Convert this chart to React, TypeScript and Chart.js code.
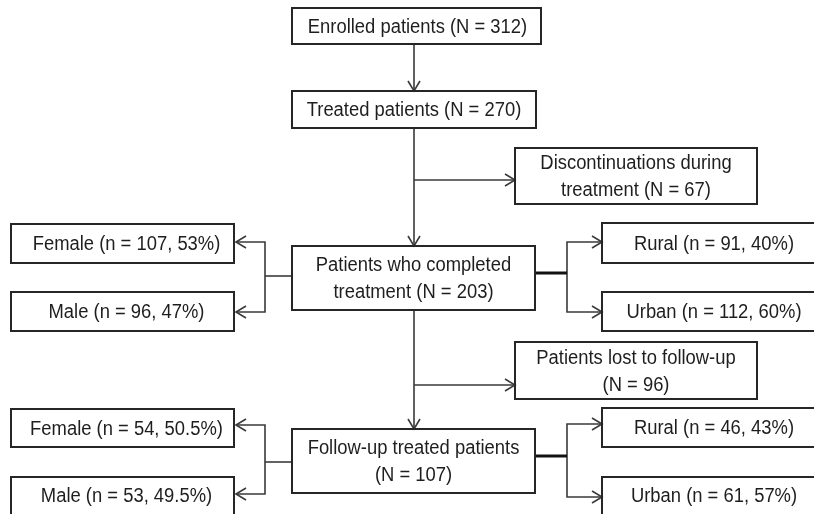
import React, { useEffect, useRef } from "react";
import { Chart, registerables } from "chart.js";

Chart.register(...registerables);

// ---- data ----
const stageNames = ["Enrolled patients", "Treated patients", "Patients who completed treatment", "Follow-up treated patients"];
const stageCounts = [312, 270, 203, 107];
const exclusionNames = ["Discontinuations during treatment", "Patients lost to follow-up"];
const exclusionCounts = [67, 96];
const sexCategories = ["Female", "Male"];
const sexCompletedCounts = [107, 96];
const sexCompletedPct = ["53%", "47%"];
const sexFollowUpCounts = [54, 53];
const sexFollowUpPct = ["50.5%", "49.5%"];
const areaCategories = ["Rural", "Urban"];
const areaCompletedCounts = [91, 112];
const areaCompletedPct = ["40%", "60%"];
const areaFollowUpCounts = [46, 61];
const areaFollowUpPct = ["43%", "57%"];

// ---- layout (flowchart geometry in chart units) ----
type Box = { lines: string[]; l: number; t: number; r: number; b: number; dx: number };
type Conn = { pts: number[][]; arrow: boolean; thick?: boolean };

function buildBoxes(): Box[] {
  const boxes: Box[] = [];
  boxes.push({ lines: [`${stageNames[0]} (N = ${stageCounts[0]})`], l: 292, t: 8, r: 541, b: 44, dx: 1 });
  boxes.push({ lines: [`${stageNames[1]} (N = ${stageCounts[1]})`], l: 292, t: 91, r: 536, b: 128, dx: 0 });
  boxes.push({ lines: ["Discontinuations during", `treatment (N = ${exclusionCounts[0]})`], l: 515, t: 148, r: 757, b: 204, dx: 0 });
  boxes.push({ lines: ["Patients who completed", `treatment (N = ${stageCounts[2]})`], l: 292, t: 246, r: 535, b: 310, dx: 0 });
  boxes.push({ lines: [`${sexCategories[0]} (n = ${sexCompletedCounts[0]}, ${sexCompletedPct[0]})`], l: 11, t: 224, r: 234, b: 263, dx: 4 });
  boxes.push({ lines: [`${sexCategories[1]} (n = ${sexCompletedCounts[1]}, ${sexCompletedPct[1]})`], l: 11, t: 292, r: 234, b: 331, dx: 4 });
  boxes.push({ lines: [`${areaCategories[0]} (n = ${areaCompletedCounts[0]}, ${areaCompletedPct[0]})`], l: 602, t: 223, r: 826, b: 263, dx: 0 });
  boxes.push({ lines: [`${areaCategories[1]} (n = ${areaCompletedCounts[1]}, ${areaCompletedPct[1]})`], l: 602, t: 292, r: 826, b: 331, dx: 0 });
  boxes.push({ lines: [exclusionNames[1], `(N = ${exclusionCounts[1]})`], l: 515, t: 342, r: 757, b: 399, dx: 0 });
  boxes.push({ lines: [stageNames[3], `(N = ${stageCounts[3]})`], l: 292, t: 429, r: 535, b: 493, dx: 0 });
  boxes.push({ lines: [`${sexCategories[0]} (n = ${sexFollowUpCounts[0]}, ${sexFollowUpPct[0]})`], l: 11, t: 409, r: 234, b: 447, dx: 4 });
  boxes.push({ lines: [`${sexCategories[1]} (n = ${sexFollowUpCounts[1]}, ${sexFollowUpPct[1]})`], l: 11, t: 477, r: 234, b: 522, dx: 4 });
  boxes.push({ lines: [`${areaCategories[0]} (n = ${areaFollowUpCounts[0]}, ${areaFollowUpPct[0]})`], l: 602, t: 408, r: 826, b: 447, dx: 0 });
  boxes.push({ lines: [`${areaCategories[1]} (n = ${areaFollowUpCounts[1]}, ${areaFollowUpPct[1]})`], l: 602, t: 477, r: 826, b: 522, dx: 0 });
  return boxes;
}

const connectors: Conn[] = [
  { pts: [[414, 44], [414, 91]], arrow: true },
  { pts: [[414, 128], [414, 246]], arrow: true },
  { pts: [[414, 180], [515, 180]], arrow: true },
  { pts: [[292, 276], [265, 276]], arrow: false },
  { pts: [[265, 276], [265, 242], [236, 242]], arrow: true },
  { pts: [[265, 276], [265, 312], [236, 312]], arrow: true },
  { pts: [[535, 273], [567, 273]], arrow: false, thick: true },
  { pts: [[567, 273], [567, 242], [602, 242]], arrow: true },
  { pts: [[567, 273], [567, 312], [602, 312]], arrow: true },
  { pts: [[414, 310], [414, 429]], arrow: true },
  { pts: [[414, 385], [515, 385]], arrow: true },
  { pts: [[292, 462], [265, 462]], arrow: false },
  { pts: [[265, 462], [265, 425], [236, 425]], arrow: true },
  { pts: [[265, 462], [265, 494], [236, 494]], arrow: true },
  { pts: [[535, 456], [567, 456]], arrow: false, thick: true },
  { pts: [[567, 456], [567, 424], [602, 424]], arrow: true },
  { pts: [[567, 456], [567, 497], [602, 497]], arrow: true },
];

const BOX_COLOR = "#262626";
const LINE_COLOR = "#3a3a3a";
const TEXT_COLOR = "#1e1e1e";

function buildDatasets(boxes: Box[]) {
  const ds: any[] = [];
  const base = { showLine: true, pointRadius: 0, pointHoverRadius: 0, fill: false, tension: 0 };
  boxes.forEach((b) => {
    ds.push({
      ...base,
      data: [
        { x: b.l, y: b.t }, { x: b.r, y: b.t }, { x: b.r, y: b.b }, { x: b.l, y: b.b }, { x: b.l, y: b.t },
      ],
      borderColor: BOX_COLOR,
      borderWidth: 2,
      borderJoinStyle: "miter",
      borderCapStyle: "square",
    });
  });
  connectors.forEach((c) => {
    ds.push({
      ...base,
      data: c.pts.map((p) => ({ x: p[0], y: p[1] })),
      borderColor: c.thick ? "#111" : LINE_COLOR,
      borderWidth: c.thick ? 3 : 1.6,
      borderJoinStyle: "miter",
    });
    if (c.arrow) {
      const n = c.pts.length;
      const [x1, y1] = c.pts[n - 2];
      const [x2, y2] = c.pts[n - 1];
      const len = Math.hypot(x2 - x1, y2 - y1);
      const ux = (x2 - x1) / len;
      const uy = (y2 - y1) / len;
      const L = 10, H = 6;
      ds.push({
        ...base,
        data: [
          { x: x2 - ux * L - uy * H, y: y2 - uy * L + ux * H },
          { x: x2, y: y2 },
          { x: x2 - ux * L + uy * H, y: y2 - uy * L - ux * H },
        ],
        borderColor: LINE_COLOR,
        borderWidth: 1.6,
        borderJoinStyle: "miter",
      });
    }
  });
  return ds;
}

export default function App() {
  const ref = useRef<HTMLCanvasElement | null>(null);
  useEffect(() => {
    document.body.style.margin = "0";
    document.body.style.background = "#fff";
    const boxes = buildBoxes();
    const textPlugin = {
      id: "boxText",
      afterDatasetsDraw(chart: any) {
        const ctx = chart.ctx as CanvasRenderingContext2D;
        const xs = chart.scales.x;
        const ys = chart.scales.y;
        ctx.save();
        ctx.beginPath();
        ctx.rect(0, 0, chart.width, chart.height);
        ctx.clip();
        ctx.fillStyle = TEXT_COLOR;
        ctx.font = "20px 'Liberation Sans', Arial, sans-serif";
        ctx.textAlign = "center";
        ctx.textBaseline = "middle";
        const sx = 0.92;
        boxes.forEach((b) => {
          const cx = xs.getPixelForValue((b.l + Math.min(b.r, 826)) / 2 + b.dx);
          const cyVal = (b.t + Math.min(b.b, 514)) / 2;
          const n = b.lines.length;
          b.lines.forEach((line, i) => {
            const yv = cyVal + (i - (n - 1) / 2) * 27 + 1;
            const cy = ys.getPixelForValue(yv);
            ctx.save();
            ctx.translate(cx, cy);
            ctx.scale(sx, 1);
            ctx.fillText(line, 0, 0);
            ctx.restore();
          });
        });
        ctx.restore();
      },
    };
    const chart = new Chart(ref.current as HTMLCanvasElement, {
      type: "scatter",
      data: { datasets: buildDatasets(boxes) },
      options: {
        animation: false,
        responsive: false,
        devicePixelRatio: 1,
        layout: { padding: 0 },
        plugins: { legend: { display: false }, tooltip: { enabled: false } },
        events: [],
        scales: {
          x: { type: "linear", min: 0, max: 814, display: false },
          y: { type: "linear", min: 0, max: 514, reverse: true, display: false },
        },
      },
      plugins: [textPlugin],
    } as any);
    return () => chart.destroy();
  }, []);
  return (
    <div style={{ position: "absolute", left: 0, top: 0, width: 814, height: 514, background: "#fff" }}>
      <canvas ref={ref} width={814} height={514} style={{ display: "block" }} />
    </div>
  );
}
